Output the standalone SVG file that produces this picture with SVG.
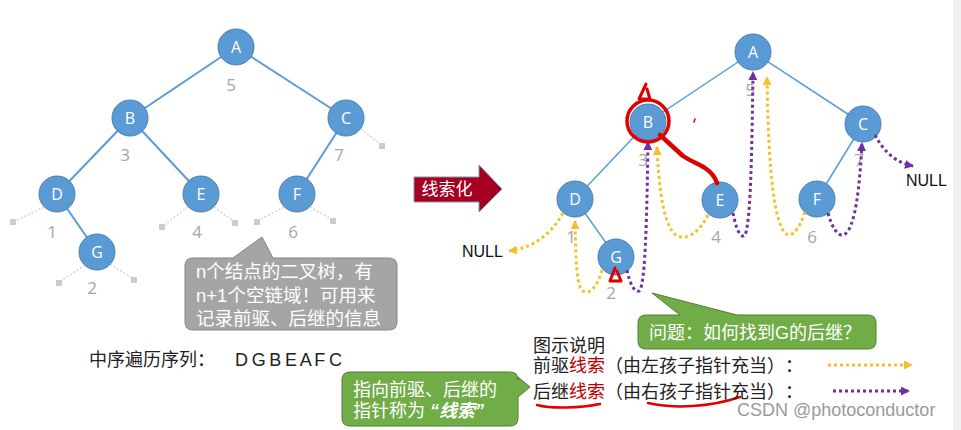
<svg xmlns="http://www.w3.org/2000/svg" width="961" height="430" viewBox="0 0 961 430">
<defs>
<style>
text{font-family:"Liberation Sans","Noto Sans CJK SC",sans-serif;text-spacing-trim:space-all;}
.node circle{fill:#5b9bd5;stroke:#4a7fb4;stroke-width:1;}
.node text{fill:#fff;font-family:"Open Sans","Liberation Sans",sans-serif;font-size:16px;text-anchor:middle;}
.edgeL{stroke:#5b9bd5;stroke-width:2;fill:none;}
.edgeR{stroke:#5b9bd5;stroke-width:1.5;fill:none;}
.num{fill:#a6a6a6;font-size:17px;text-anchor:middle;font-family:"Open Sans","Liberation Sans",sans-serif;}
.stub{stroke:#d4d4d4;stroke-width:1.5;stroke-dasharray:2 2;fill:none;}
.sq{fill:#cccccc;}
.pre{stroke:#f5c02a;stroke-width:3;stroke-dasharray:3 3;fill:none;marker-end:url(#mY);}
.suc{stroke:#7030a0;stroke-width:3;stroke-dasharray:3 3;fill:none;marker-end:url(#mP);}
.red{stroke:#e00000;fill:none;stroke-linecap:round;stroke-linejoin:round;}
.cn{font-size:18px;}
.cb{font-size:18.5px;}
.white{fill:#fff;}
</style>
<marker id="mY" viewBox="0 0 10 10" refX="9" refY="5" markerWidth="9" markerHeight="9" markerUnits="userSpaceOnUse" orient="auto"><path d="M0,0 L10,5 L0,10 z" fill="#f5c02a"/></marker>
<marker id="mP" viewBox="0 0 10 10" refX="9" refY="5" markerWidth="9" markerHeight="9" markerUnits="userSpaceOnUse" orient="auto"><path d="M0,0 L10,5 L0,10 z" fill="#7030a0"/></marker>
</defs>
<rect x="0" y="0" width="961" height="430" fill="#ffffff"/>
<rect x="953" y="0" width="8" height="430" fill="#f0f0f0"/>

<!-- Left tree connectors -->
<g id="connectors-left">
<line class="edgeL" x1="236" y1="47" x2="130" y2="118"/>
<line class="edgeL" x1="236" y1="47" x2="346" y2="118"/>
<line class="edgeL" x1="130" y1="118" x2="57" y2="194"/>
<line class="edgeL" x1="130" y1="118" x2="201" y2="194"/>
<line class="edgeL" x1="346" y1="118" x2="297" y2="194"/>
<line class="edgeL" x1="57" y1="194" x2="97" y2="252"/>
<line class="stub" x1="44" y1="207" x2="15" y2="221"/>
<line class="stub" x1="188" y1="207" x2="164" y2="225"/>
<line class="stub" x1="214" y1="207" x2="233" y2="221"/>
<line class="stub" x1="284" y1="207" x2="259" y2="220"/>
<line class="stub" x1="310" y1="207" x2="331" y2="219"/>
<line class="stub" x1="361" y1="129" x2="380" y2="144"/>
<line class="stub" x1="85" y1="265" x2="61" y2="281"/>
<line class="stub" x1="110" y1="264" x2="132" y2="278"/>
<rect class="sq" x="10" y="219" width="6" height="6"/>
<rect class="sq" x="159" y="224" width="6" height="6"/>
<rect class="sq" x="232" y="220" width="6" height="6"/>
<rect class="sq" x="254" y="219" width="6" height="6"/>
<rect class="sq" x="330" y="218" width="6" height="6"/>
<rect class="sq" x="379" y="143" width="6" height="6"/>
<rect class="sq" x="56" y="280" width="6" height="6"/>
<rect class="sq" x="131" y="277" width="6" height="6"/>
</g>
<g id="L-A" class="node"><circle cx="236" cy="47" r="18"/><text x="236" y="53">A</text></g>
<g id="L-B" class="node"><circle cx="130" cy="118" r="18"/><text x="130" y="124">B</text></g>
<g id="L-C" class="node"><circle cx="346" cy="118" r="18"/><text x="346" y="124">C</text></g>
<g id="L-D" class="node"><circle cx="57" cy="194" r="18"/><text x="57" y="200">D</text></g>
<g id="L-E" class="node"><circle cx="201" cy="194" r="18"/><text x="201" y="200">E</text></g>
<g id="L-F" class="node"><circle cx="297" cy="194" r="18"/><text x="297" y="200">F</text></g>
<g id="L-G" class="node"><circle cx="97" cy="252" r="18"/><text x="97" y="258">G</text></g>
<g id="L-nums">
<text class="num" x="231" y="91">5</text>
<text class="num" x="125" y="161">3</text>
<text class="num" x="339" y="161">7</text>
<text class="num" x="52" y="238">1</text>
<text class="num" x="197" y="238">4</text>
<text class="num" x="293" y="238">6</text>
<text class="num" x="92" y="294">2</text>
</g>

<!-- Grey callout -->
<g id="callout-grey">
<path d="M193,258 L233,258 L262,237 L273,258 L389,258 Q397,258 397,266 L397,322 Q397,330 389,330 L193,330 Q185,330 185,322 L185,266 Q185,258 193,258 Z" fill="#a5a5a5" stroke="#858585" stroke-width="1"/>
<text class="cb white" x="196" y="278">n个结点的二叉树，有</text>
<text class="cb white" x="196" y="302">n+1个空链域！可用来</text>
<text class="cb white" x="196" y="325">记录前驱、后继的信息</text>
</g>

<text id="inorder" class="cn" x="89" y="366" fill="#222">中序遍历序列：<tspan x="235" textLength="107">D G B E A F C</tspan></text>

<!-- Green callout bottom-left -->
<g id="callout-thread">
<path d="M350,372 L510,372 Q518,372 518,380 L518,377 L530,387 L518,397 L518,418 Q518,426 510,426 L350,426 Q342,426 342,418 L342,380 Q342,372 350,372 Z" fill="#70ad47" stroke="#507e32" stroke-width="1"/>
<text class="cn white" x="353" y="396">指向前驱、后继的</text>
<text class="cn white" x="353" y="417">指针称为 <tspan font-weight="bold" font-style="italic">“线索”</tspan></text>
</g>

<!-- Thread arrow -->
<g id="arrow-thread">
<polygon points="414,177 479,177 479,165 502,189 479,212 479,202 414,202" fill="#a50021" stroke="#8497b0" stroke-width="1"/>
<text class="white" x="447" y="195" font-size="17" text-anchor="middle" fill="#f6e0e0">线索化</text>
</g>

<!-- Right tree -->
<g id="connectors-right">
<line class="edgeR" x1="753" y1="52" x2="648" y2="122"/>
<line class="edgeR" x1="753" y1="52" x2="863" y2="124"/>
<line class="edgeR" x1="648" y1="122" x2="575" y2="199"/>
<line class="edgeR" x1="863" y1="124" x2="817" y2="199"/>
<line class="edgeR" x1="575" y1="199" x2="616" y2="257"/>
</g>
<g id="R-A" class="node"><circle cx="753" cy="52" r="18"/><text x="753" y="58">A</text></g>
<g id="R-B" class="node"><circle cx="648" cy="122" r="18"/><text x="648" y="128">B</text></g>
<g id="R-C" class="node"><circle cx="863" cy="124" r="18"/><text x="863" y="130">C</text></g>
<g id="R-D" class="node"><circle cx="575" cy="199" r="18"/><text x="575" y="205">D</text></g>
<g id="R-E" class="node"><circle cx="720" cy="200" r="18"/><text x="720" y="206">E</text></g>
<g id="R-F" class="node"><circle cx="817" cy="199" r="18"/><text x="817" y="205">F</text></g>
<g id="R-G" class="node"><circle cx="616" cy="257" r="18"/><text x="616" y="263">G</text></g>
<g id="R-nums">
<text class="num" x="750" y="96">5</text>
<text class="num" x="643" y="166">3</text>
<text class="num" x="859" y="166">7</text>
<text class="num" x="571" y="243">1</text>
<text class="num" x="716" y="243">4</text>
<text class="num" x="812" y="243">6</text>
<text class="num" x="611" y="299">2</text>
</g>

<g id="threads">
<path class="pre" d="M563,213 C550,236 532,248 509,251"/>
<path class="pre" d="M602,270 C598,284 592,293 585,292 C576,290 576,262 575,221"/>
<path class="suc" d="M627,270 C630,284 634,292 639,291 C646,288 647,200 648,142"/>
<path class="pre" d="M708,215 C700,231 690,238 681,237 C664,235 659,190 657,147"/>
<path class="suc" d="M733,213 C736,229 740,237 744,236 C751,233 752,140 753,72"/>
<path class="pre" d="M805,212 C800,227 794,235 789,235 C771,232 768,140 767,77"/>
<path class="suc" d="M828,213 C832,228 838,236 843,235 C856,232 860,180 862,143"/>
<path class="suc" d="M875,135 C885,154 898,163 913,166"/>
</g>
<text x="462" y="257" font-size="16" fill="#111" font-family="Open Sans, Liberation Sans, sans-serif">NULL</text>
<text x="906" y="186" font-size="16" fill="#111" font-family="Open Sans, Liberation Sans, sans-serif">NULL</text>

<!-- Red annotations -->
<g id="annotations">
<circle class="red" cx="648" cy="121" r="21" stroke-width="3.5"/>
<path class="red" stroke-width="4.5" d="M660,135 L683,156 C692,162 699,164 705,168 C711,172 715,177 717,183"/>
<path class="red" stroke-width="3" d="M646,84 L639,99 L650,99 L647,89"/>
<path class="red" stroke-width="3" d="M615,268 L610,281 L621,281 L617,271"/>
<path class="red" stroke-width="1.5" d="M695,119 L694,122"/>
<path class="red" stroke-width="2.5" d="M537,405 C552,409 580,408 600,404"/>
<path class="red" stroke-width="2.5" d="M648,403 C675,409 710,407 740,397"/>
</g>

<!-- Green callout right -->
<g id="callout-question">
<path d="M646,315 L680,315 L652,293 L737,315 L868,315 Q876,315 876,323 L876,341 Q876,349 868,349 L646,349 Q638,349 638,341 L638,323 Q638,315 646,315 Z" fill="#70ad47" stroke="#507e32" stroke-width="1"/>
<text class="cn white" x="649" y="339">问题：如何找到G的后继？</text>
</g>

<!-- Legend -->
<g id="legend">
<text class="cn" x="533" y="352" fill="#222">图示说明</text>
<text class="cn" x="533" y="372" fill="#222">前驱<tspan fill="#c00000">线索</tspan>（由左孩子指针充当）：</text>
<text class="cn" x="533" y="398" fill="#222">后继<tspan fill="#c00000">线索</tspan>（由右孩子指针充当）：</text>
<line class="pre" x1="828" y1="365" x2="912" y2="365"/>
<line class="suc" x1="833" y1="391" x2="909" y2="391"/>
</g>

<text x="737" y="416" font-size="18" fill="#9a9a9a">CSDN @photoconductor</text>
</svg>
